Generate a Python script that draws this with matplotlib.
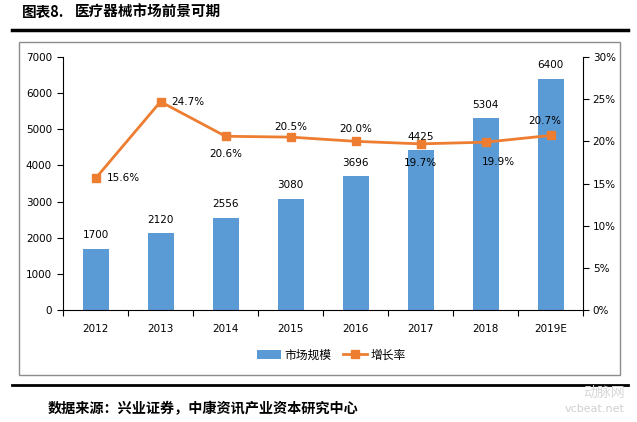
import matplotlib
matplotlib.use("Agg")
import matplotlib.pyplot as plt
from matplotlib.patches import Rectangle
from matplotlib.lines import Line2D
import numpy as np

plt.rcParams['font.family'] = ['DejaVu Sans', 'Noto Sans CJK SC']

years = ['2012', '2013', '2014', '2015', '2016', '2017', '2018', '2019E']
market = [1700, 2120, 2556, 3080, 3696, 4425, 5304, 6400]
growth = [15.6, 24.7, 20.6, 20.5, 20.0, 19.7, 19.9, 20.7]

# label offsets (points) for growth labels: (dx, dy, ha, va)
label_off = [(8, 0, 'left', 'center'), (8, 0, 'left', 'center'), (0, -9, 'center', 'top'),
             (0, 4, 'center', 'bottom'), (0, 5, 'center', 'bottom'), (0, -10, 'center', 'top'),
             (9, -11, 'center', 'top'), (-4, 7, 'center', 'bottom')]

BLUE = '#5B9BD5'
ORANGE = '#ED7D31'
CJK = ['Noto Sans CJK SC', 'DejaVu Sans']

fig = plt.figure(figsize=(6.37, 4.22), dpi=100)

# outer frame of chart
fig.add_artist(Rectangle((19/637, 1-375/422), 601/637, 333/422, transform=fig.transFigure,
                         fill=False, edgecolor='#8c8c8c', linewidth=1.0))
# top and bottom black rules
fig.add_artist(Line2D([12/637, 628/637], [1-30/422]*2, transform=fig.transFigure, color='black', linewidth=2.5))
fig.add_artist(Line2D([12/637, 628/637], [1-385/422]*2, transform=fig.transFigure, color='black', linewidth=2.0))

fig.text(22/637, 1-12/422, '图表8.', fontsize=10.5, fontweight='bold', family=CJK, va='center', ha='left')
fig.text(75/637, 1-12/422, '医疗器械市场前景可期', fontsize=10.5, fontweight='bold', family=CJK, va='center', ha='left')
fig.text(48/637, 1-409/422, '数据来源：兴业证券，中康资讯产业资本研究中心', fontsize=10.2, fontweight='bold',
         family=CJK, va='center', ha='left')
fig.text(625/637, 1-409/422, 'vcbeat.net', fontsize=8, color='#d0d0d0', va='center', ha='right')
fig.text(625/637, 1-393/422, '动脉网', fontsize=10, color='#d8d8d8', family=CJK, va='center', ha='right')

ax = fig.add_axes([63/637, 1-310/422, 520/637, 253/422])
x = np.arange(len(years))
ax.bar(x, market, width=0.4, color=BLUE, zorder=2, label='市场规模')
ax.set_xlim(-0.5, len(years)-0.5)
ax.set_ylim(0, 7000)
ax.set_yticks(range(0, 7001, 1000))
ax.set_xticks(x)
ax.set_xticklabels(years)
ax.set_xticks(np.arange(-0.5, len(years), 1), minor=True)
ax.tick_params(axis='x', which='major', length=0, pad=10, labelsize=7.5)
ax.tick_params(axis='x', which='minor', length=4, direction='out', width=0.8)
ax.tick_params(axis='y', length=4, direction='out', width=0.8, labelsize=7.5, pad=4)
for s in ['top', 'right']:
    ax.spines[s].set_visible(False)
for s in ['left', 'bottom']:
    ax.spines[s].set_linewidth(0.8)

for xi, v in zip(x, market):
    ax.annotate(str(v), (xi, v), xytext=(0, 6), textcoords='offset points',
                ha='center', va='bottom', fontsize=7.5)

ax2 = ax.twinx()
ax2.plot(x, growth, color=ORANGE, linewidth=2, marker='s', markersize=6, zorder=3, label='增长率')
ax2.set_ylim(0, 30)
ax2.set_yticks(range(0, 31, 5))
ax2.set_yticklabels([f'{v}%' for v in range(0, 31, 5)])
ax2.tick_params(axis='y', length=4, direction='out', width=0.8, labelsize=7.5, pad=3)
for s in ['top', 'left', 'bottom']:
    ax2.spines[s].set_visible(False)
ax2.spines['right'].set_linewidth(0.8)

for xi, g, (dx, dy, ha, va) in zip(x, growth, label_off):
    ax2.annotate(f'{g:.1f}%', (xi, g), xytext=(dx, dy), textcoords='offset points',
                 ha=ha, va=va, fontsize=7.5)

h1, l1 = ax.get_legend_handles_labels()
h2, l2 = ax2.get_legend_handles_labels()
leg = fig.legend(h1 + h2, l1 + l2, loc='center', bbox_to_anchor=(0.52, 1-355/422), ncol=2, frameon=False,
                 prop={'family': CJK, 'size': 8.5}, handlelength=2.0, columnspacing=1.0, handletextpad=0.3)

fig.savefig('out.png', dpi=100)
